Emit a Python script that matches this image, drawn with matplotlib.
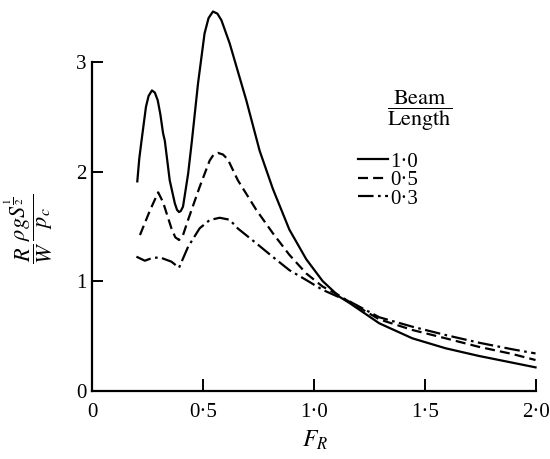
import matplotlib
matplotlib.use("Agg")
import matplotlib.pyplot as plt
from matplotlib.lines import Line2D

plt.rcParams['font.family'] = ['Liberation Serif', 'DejaVu Serif']
plt.rcParams['mathtext.fontset'] = 'stix'

# Beam/Length = 1.0 (solid)
x_10 = [0.204, 0.213, 0.223, 0.243, 0.255, 0.27, 0.283, 0.296, 0.308, 0.320, 0.328, 0.35,
        0.373, 0.383, 0.392, 0.40, 0.41, 0.433, 0.45, 0.4776, 0.507, 0.525, 0.545, 0.565,
        0.583, 0.62, 0.695, 0.755, 0.815, 0.889, 0.965, 1.039, 1.114, 1.16, 1.294, 1.443,
        1.593, 1.743, 1.893, 1.998]
y_10 = [1.91, 2.12, 2.28, 2.59, 2.69, 2.74, 2.72, 2.65, 2.52, 2.35, 2.28, 1.92,
        1.71, 1.65, 1.63, 1.64, 1.68, 1.98, 2.28, 2.805, 3.26, 3.40, 3.46, 3.44,
        3.38, 3.17, 2.65, 2.19, 1.84, 1.47, 1.20, 1.00, 0.858, 0.80, 0.615, 0.478,
        0.387, 0.317, 0.256, 0.213]

# Beam/Length = 0.5 (dashed)
x_05 = [0.216, 0.26, 0.298, 0.32, 0.358, 0.375, 0.392, 0.41, 0.433, 0.485, 0.53, 0.548,
        0.567, 0.59, 0.612, 0.657, 0.74, 0.815, 0.889, 0.965, 1.039, 1.10, 1.16, 1.294,
        1.443, 1.593, 1.743, 1.893, 1.998]
y_05 = [1.42, 1.64, 1.81, 1.72, 1.48, 1.40, 1.375, 1.42, 1.56, 1.86, 2.10, 2.155,
        2.17, 2.155, 2.11, 1.92, 1.65, 1.436, 1.24, 1.07, 0.95, 0.885, 0.81, 0.651,
        0.554, 0.478, 0.40, 0.335, 0.28]

# Beam/Length = 0.3 (dash-dot)
x_03 = [0.20, 0.238, 0.27, 0.305, 0.358, 0.392, 0.433, 0.485, 0.53, 0.575, 0.62, 0.657,
        0.74, 0.815, 0.889, 0.965, 1.039, 1.10, 1.16, 1.294, 1.443, 1.593, 1.743, 1.893, 1.998]
y_03 = [1.223, 1.186, 1.21, 1.217, 1.177, 1.122, 1.314, 1.482, 1.557, 1.578, 1.56, 1.48,
        1.345, 1.22, 1.10, 1.01, 0.92, 0.865, 0.815, 0.67, 0.584, 0.508, 0.438, 0.378, 0.34]

legend_labels = ['1·0', '0·5', '0·3']
x_ticks = [0, 0.5, 1.0, 1.5, 2.0]
x_tick_labels = ['0', '0·5', '1·0', '1·5', '2·0']
y_ticks = [0, 1, 2, 3]
y_tick_labels = ['0', '1', '2', '3']

fig = plt.figure(figsize=(5.5, 4.59), dpi=100)
ax = fig.add_axes([0.1673, 0.1488, 0.8072, 0.8357])

lw = 1.6
ls_05 = (0, (4.5, 2.3))
ls_03 = (0, (7, 2, 1.2, 2))
common = dict(color='black', lw=lw, clip_on=False, solid_joinstyle='round',
              dash_joinstyle='round')
ax.plot(x_10, y_10, linestyle='-', **common)
ax.plot(x_05, y_05, linestyle=ls_05, **common)
ax.plot(x_03, y_03, linestyle=ls_03, **common)

ax.set_xlim(0, 2.0)
ax.set_ylim(0, 3.5)
for s in ['top', 'right']:
    ax.spines[s].set_visible(False)
for s in ['left', 'bottom']:
    ax.spines[s].set_linewidth(1.6)
ax.spines['left'].set_bounds(0, 3)

ax.set_xticks(x_ticks)
ax.set_xticklabels(x_tick_labels)
ax.set_yticks(y_ticks)
ax.set_yticklabels(y_tick_labels)
ax.tick_params(axis='x', direction='in', length=9, width=1.4, pad=8.5, labelsize=15)
ax.tick_params(axis='y', direction='in', length=8, width=1.4, pad=4, labelsize=15)

fig.text(315 / 550, 1 - 440 / 459, r'$F_R$', fontsize=17, ha='center', va='center')
fig.text(29 / 550, 1 - 229 / 459, r'$\dfrac{R}{W}\,\dfrac{\rho g S^{\frac{1}{2}}}{p_c}$',
         fontsize=16, ha='center', va='center', rotation=90)

handles = [Line2D([], [], color='black', lw=lw, linestyle='-'),
           Line2D([], [], color='black', lw=lw, linestyle=ls_05),
           Line2D([], [], color='black', lw=lw, linestyle=ls_03)]
leg = ax.legend(handles, legend_labels, loc='upper left', bbox_to_anchor=(0.598, 0.622),
                frameon=False, fontsize=15, handlelength=1.45, handletextpad=0.1,
                labelspacing=-0.05, borderpad=0, borderaxespad=0)
ax.text(0.738, 0.73, r'$\dfrac{\mathrm{Beam}}{\mathrm{Length}}$', transform=ax.transAxes,
        ha='center', va='center', fontsize=16)

fig.savefig('out.png', dpi=100)
